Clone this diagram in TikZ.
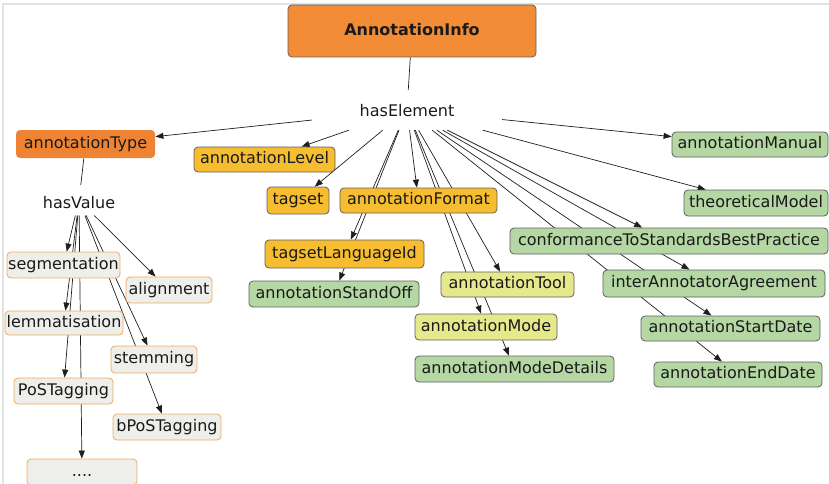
\documentclass[tikz,border=0pt]{standalone}
\usepackage{fontspec}
\setmainfont{DejaVu Sans}
\usetikzlibrary{arrows.meta,backgrounds}

\definecolor{rootfill}{HTML}{F28C36}
\definecolor{typefill}{HTML}{EE8433}
\definecolor{goldfill}{HTML}{F5BD2F}
\definecolor{paleyellow}{HTML}{E5E88B}
\definecolor{greenfill}{HTML}{B4D7A3}
\definecolor{valuefill}{HTML}{EEEEEA}
\definecolor{valueline}{HTML}{F3A95A}
\definecolor{boxline}{HTML}{5F5F5F}
\definecolor{edgecol}{HTML}{1E1E1E}
\definecolor{textcol}{HTML}{1A1A1A}
\definecolor{framecol}{HTML}{E2E2E2}

\tikzset{
  concept/.style={rounded corners=4pt, inner sep=0pt, line width=0.8pt, text=textcol,
    text height=12pt, text depth=3.5pt, font=\fontsize{16}{19}\selectfont},
  rootbox/.style 2 args={concept, draw=boxline, fill=rootfill,
    minimum width=#1pt, minimum height=#2pt, font=\fontsize{16}{19}\selectfont\bfseries},
  typebox/.style 2 args={concept, fill=typefill, minimum width=#1pt, minimum height=#2pt},
  goldbox/.style 2 args={concept, draw=boxline, fill=goldfill, minimum width=#1pt, minimum height=#2pt},
  yellowbox/.style 2 args={concept, draw=boxline, fill=paleyellow, minimum width=#1pt, minimum height=#2pt},
  greenbox/.style 2 args={concept, draw=boxline, fill=greenfill, minimum width=#1pt, minimum height=#2pt},
  valuebox/.style 2 args={concept, draw=valueline, fill=valuefill, minimum width=#1pt, minimum height=#2pt},
  % linking phrase: invisible box, placed by its baseline; #1 = width,
  % #2 = room above the baseline, #3 = room below it
  phrase/.style n args={3}{inner sep=0pt, anchor=base, text=textcol,
    font=\fontsize{16}{19}\selectfont, minimum width=#1pt,
    text height=#2pt, text depth=#3pt},
  link/.style={draw=edgecol, line width=0.7pt},
  arr/.style={link, -{Triangle[length=8pt,width=6pt]}},
}

\begin{document}
\begin{tikzpicture}[x=1pt, y=-1pt]
\useasboundingbox (0,0) rectangle (829,484);

% root concept and linking phrases
\node[rootbox={248}{52}] (info) at (412,31) {AnnotationInfo};
\node[phrase={190}{26.7}{13.3}] (hasEl) at (407,116.7) {hasElement};
\node[phrase={80}{23}{7}] (hasVal) at (79,208.3) {hasValue};

% orange / gold concepts
\node[typebox={139}{28}] (atype) at (85.5,144) {annotationType};
\node[goldbox={141}{25}] (alevel) at (264.5,159.5) {annotationLevel};
\node[goldbox={62}{27}] (tagset) at (298,200.5) {tagset};
\node[goldbox={157}{25}] (aformat) at (418.5,200.5) {annotationFormat};
\node[goldbox={159}{28}] (tlid) at (344.5,254) {tagsetLanguageId};

% pale yellow concepts
\node[yellowbox={133}{25}] (atool) at (507.5,284.5) {annotationTool};
\node[yellowbox={142}{26}] (amode) at (486,327) {annotationMode};

% green concepts
\node[greenbox={170}{26}] (standoff) at (334,294) {annotationStandOff};
\node[greenbox={199}{26}] (amoded) at (514.5,369) {annotationModeDetails};
\node[greenbox={156}{25}] (amanual) at (750,144.5) {annotationManual};
\node[greenbox={144}{26}] (theo) at (756,203) {theoreticalModel};
\node[greenbox={318}{26}] (conf) at (669,241) {conformanceToStandardsBestPractice};
\node[greenbox={222}{27}] (iaa) at (714,283.5) {interAnnotatorAgreement};
\node[greenbox={179}{25}] (start) at (730.5,328.5) {annotationStartDate};
\node[greenbox={168}{25}] (enddate) at (738,374.5) {annotationEndDate};

% annotation type values
\node[valuebox={113}{26}] (seg) at (63.5,265) {segmentation};
\node[valuebox={86}{26}] (align) at (169,290) {alignment};
\node[valuebox={118}{24}] (lemma) at (64,323) {lemmatisation};
\node[valuebox={86}{27}] (stem) at (154,359.5) {stemming};
\node[valuebox={99}{26}] (pos) at (63.5,391) {PoSTagging};
\node[valuebox={108}{26}] (bpos) at (167,427) {bPoSTagging};
\node[valuebox={110}{26}] (dots) at (82,472) {....};

\begin{pgfonlayer}{background}
  % window frame
  \draw[framecol, line width=2pt] (3,484) -- (3,4) -- (829,4);

  \draw[link] (info) -- (hasEl);
  \draw[link] (atype) -- (hasVal);

  \foreach \t in {atype,alevel,tagset,aformat,tlid,standoff,atool,amode,amoded,
                  amanual,theo,conf,iaa,start,enddate}
    \draw[arr] (hasEl) -- (\t);

  \foreach \t in {seg,align,lemma,stem,pos,bpos,dots}
    \draw[arr] (hasVal) -- (\t);
\end{pgfonlayer}
\end{tikzpicture}
\end{document}
